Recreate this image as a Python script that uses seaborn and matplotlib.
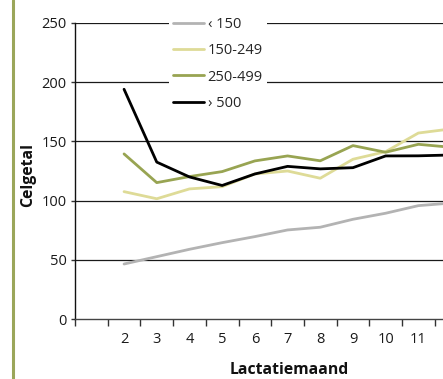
import matplotlib
matplotlib.use("Agg")
import matplotlib.pyplot as plt
import seaborn as sns
import pandas as pd
from matplotlib.lines import Line2D

# ---- data ----
months = [2, 3, 4, 5, 6, 7, 8, 9, 10, 11, 12]
tick_labels = ["", "2", "3", "4", "5", "6", "7", "8", "9", "10", "11", ""]
series_names = ["\u2039 150", "150-249", "250-499", "\u203a 500"]
lt150 = [46.6, 52.8, 59.0, 64.6, 69.7, 75.3, 77.6, 84.3, 89.4, 95.8, 98.0]
s150_249 = [107.6, 101.6, 109.9, 111.8, 122.5, 125.0, 118.9, 134.9, 141.3, 157.0, 160.5]
s250_499 = [139.4, 115.2, 120.3, 124.5, 133.5, 137.7, 133.6, 146.4, 140.8, 147.5, 145.0]
gt500 = [193.9, 132.5, 120.0, 112.8, 122.5, 128.9, 126.8, 127.8, 137.7, 137.8, 138.5]

colors = ["#b3b3b3", "#dedb97", "#98a452", "#000000"]

rows = []
for name, vals in zip(series_names, [lt150, s150_249, s250_499, gt500]):
    for m, v in zip(months, vals):
        rows.append({"maand": m, "celgetal": v, "groep": name})
df = pd.DataFrame(rows)

sns.set_style("white")
plt.rcParams["font.family"] = ["Open Sans", "DejaVu Sans"]

W, H = 443, 379
fig = plt.figure(figsize=(W / 100, H / 100), dpi=100)

x0_px, x1_px = 75, 75 + 12 * 32.7
y0_px, y1_px = 319.3, 22.7
ax = fig.add_axes([x0_px / W, 1 - y0_px / H, (x1_px - x0_px) / W, (y0_px - y1_px) / H])

# gridlines
for g in [50, 100, 150, 200, 250]:
    ax.axhline(g, color="#1a1a1a", lw=0.9, zorder=1)

sns.lineplot(data=df, x="maand", y="celgetal", hue="groep", hue_order=series_names,
             palette=colors, linewidth=2.0, ax=ax, legend=False, sort=False, zorder=3)

ax.set_xlim(0.5, 12.5)
ax.set_ylim(0, 250)
ax.set_xlabel("")
ax.set_ylabel("")

# major x ticks at category boundaries, labels at centers
ax.set_xticks([i + 0.5 for i in range(0, 13)])
ax.set_xticklabels([])
ax.set_xticks(list(range(1, 13)), minor=True)
ax.set_xticklabels(tick_labels, minor=True)
ax.tick_params(axis="x", which="major", direction="out", length=5, width=1.0, color="#333333", bottom=True)
ax.tick_params(axis="x", which="minor", length=0, pad=9, labelsize=10.5, labelcolor="#1a1a1a")
ax.set_yticks([0, 50, 100, 150, 200, 250])
ax.tick_params(axis="y", direction="out", length=3, width=1.0, color="#333333", left=True,
               pad=3, labelsize=10.5, labelcolor="#1a1a1a")

for s in ["top", "right"]:
    ax.spines[s].set_visible(False)
ax.spines["left"].set_color("#111111")
ax.spines["bottom"].set_color("#444444")
ax.spines["left"].set_linewidth(1.0)
ax.spines["bottom"].set_linewidth(1.0)

# legend
handles = [Line2D([0], [0], color=c, lw=2.0) for c in colors]
leg = fig.legend(handles, series_names, loc="upper left",
                 bbox_to_anchor=(169 / W, 1 - 13 / H), frameon=True, fontsize=10.5,
                 handlelength=2.1, handletextpad=0.25, labelspacing=0.76,
                 borderpad=0.3, borderaxespad=0)
leg.get_frame().set_facecolor("white")
leg.get_frame().set_edgecolor("none")
leg.get_frame().set_alpha(1)
leg.set_zorder(10)

fig.text(28 / W, 1 - 175 / H, "Celgetal", rotation=90, ha="center", va="center",
         fontsize=11.3, fontweight="bold", color="#111111")
fig.text(289 / W, 0.5 / H, "Lactatiemaand", ha="center", va="bottom",
         fontsize=11.3, fontweight="bold", color="#111111")

fig.add_artist(Line2D([13 / W, 13 / W], [0, 1], color="#9ba65a", lw=2.2,
                      transform=fig.transFigure))

fig.savefig("out.png", dpi=100)
